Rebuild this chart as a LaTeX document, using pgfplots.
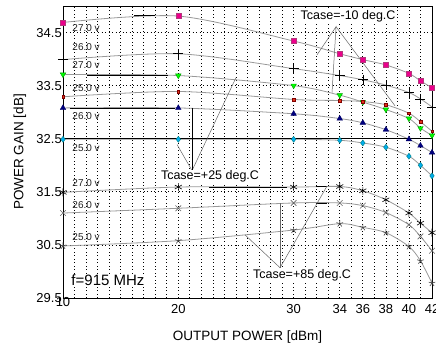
\documentclass[border=0pt]{standalone}
\usepackage{fontspec}
\setmainfont{Liberation Sans}
\usepackage{pgfplots}
\pgfplotsset{compat=1.18}
\definecolor{curve}{HTML}{999999}
\definecolor{lbl}{HTML}{222222}
\begin{document}
\begin{tikzpicture}
\path[use as bounding box] (-63pt,-54pt) rectangle (373pt,298pt);
\begin{axis}[
  scale only axis, width=369pt, height=292pt,
  xmin=10, xmax=42, ymin=29.5, ymax=35,
  axis line style={black, line width=0.8pt},
  xtick={20,30,34,36,38,40,42},
  extra x ticks={10},
  extra x tick style={xticklabel style={yshift=7pt}},
  ytick={29.5,30.5,31.5,32.5,33.5,34.5},
  minor xtick={11,12,...,41},
  grid=both,
  major grid style={black, line width=0.7pt, dash pattern=on 0.7pt off 2.8pt},
  minor grid style={black, line width=0.7pt, dash pattern=on 0.7pt off 2.8pt},
  major tick length=0pt, minor tick length=0pt,
  tick label style={font=\fontsize{13}{13}\selectfont},
  /pgf/number format/assume math mode=true,
  yticklabel style={/pgf/number format/fixed, /pgf/number format/fixed zerofill, /pgf/number format/precision=1, inner sep=1pt},
  xticklabel style={inner sep=2pt, yshift=-4pt},
  xlabel={OUTPUT POWER [dBm]}, ylabel={POWER GAIN [dB]},
  label style={font=\fontsize{13.5}{14}\selectfont},
  xlabel style={at={(axis description cs:0.5,-0.1336)}, anchor=center},
  ylabel style={at={(axis description cs:-0.1165,0.5)}, anchor=center},
  every axis plot/.append style={curve, line width=0.8pt, smooth},
]
% -10 deg C
\addplot[mark=square*, mark size=2.5pt, mark options={fill=magenta, draw=magenta!70!black, line width=0.4pt}] coordinates {
(10,34.69) (20,34.81) (30,34.34) (34,34.10) (36,33.99) (38,33.89) (40,33.73) (41,33.59) (42,33.46)};
\addplot[mark=+, mark size=5pt, mark options={black, line width=0.6pt}] coordinates {
(10,33.99) (20,34.10) (30,33.82) (34,33.69) (36,33.61) (38,33.51) (40,33.37) (41,33.25) (42,33.10)};
\addplot[mark=triangle*, mark size=3.2pt, mark options={rotate=180, fill=green, draw=green!60!black, line width=0.4pt}] coordinates {
(10,33.71) (20,33.69) (30,33.50) (34,33.32) (36,33.19) (38,33.05) (40,32.88) (41,32.70) (42,32.56)};
\addplot[mark=square*, mark size=1.3pt, mark options={fill=red!60!brown, draw=red!50!black, line width=0.3pt}] coordinates {
(10,33.29) (20,33.39) (30,33.24) (34,33.22) (36,33.20) (38,33.14) (40,32.98) (41,32.82) (42,32.64)};
% +25 deg C
\addplot[mark=triangle*, mark size=3.2pt, mark options={fill=blue!50!black, draw=blue!40!black, line width=0.4pt}] coordinates {
(10,33.08) (20,33.08) (30,32.97) (34,32.88) (36,32.80) (38,32.67) (40,32.49) (41,32.37) (42,32.24)};
\addplot[mark=diamond*, mark size=3pt, mark options={fill=cyan, draw=teal, line width=0.4pt}] coordinates {
(10,32.49) (20,32.49) (30,32.49) (34,32.47) (36,32.42) (38,32.34) (40,32.17) (41,32.00) (42,31.80)};
% +85 deg C
\addplot[mark=asterisk, mark size=4pt, mark options={black, line width=0.6pt}] coordinates {
(10,31.49) (20,31.59) (30,31.59) (34,31.60) (36,31.52) (38,31.35) (40,31.10) (41,30.91) (42,30.73)};
\addplot[mark=x, mark size=4pt, mark options={gray!80!black, line width=0.6pt}] coordinates {
(10,31.10) (20,31.19) (30,31.29) (34,31.29) (36,31.24) (38,31.11) (40,30.88) (41,30.66) (42,30.39)};
\addplot[mark=star, mark size=3.5pt, mark options={gray!50!black, line width=0.6pt}] coordinates {
(10,30.48) (20,30.58) (30,30.78) (34,30.90) (36,30.83) (38,30.73) (40,30.47) (41,30.20) (42,29.78)};

% solid reference line and label leftovers
\draw[black, line width=0.7pt] (axis cs:10,32.5) -- (axis cs:42,32.5);
\draw[black, line width=0.7pt] (axis cs:16.2,34.82) -- (axis cs:18.0,34.82);
\draw[black, line width=0.7pt] (axis cs:12.1,33.70) -- (axis cs:19.1,33.70);
\draw[black, line width=0.7pt] (axis cs:10.6,33.08) -- (axis cs:19.7,33.08);
\draw[black, line width=0.7pt] (axis cs:22.7,31.59) -- (axis cs:29.4,31.59);
\draw[black, line width=0.7pt] (axis cs:31.9,31.60) -- (axis cs:32.9,31.60);
\draw[black, line width=0.7pt] (axis cs:31.9,31.29) -- (axis cs:32.9,31.29);

% leader lines
\draw[gray!80!black, line width=0.5pt] (axis cs:32.03,34.08) -- (axis cs:33.68,34.61) -- (axis cs:33.33,33.37);
\draw[gray!80!black, line width=0.5pt] (axis cs:33.68,34.61) -- (axis cs:38.79,33.12);
\draw[gray!80!black, line width=0.5pt] (axis cs:19.89,32.39) -- (axis cs:21.19,31.90) -- (axis cs:25.0,33.65);
\draw[black, line width=0.7pt] (axis cs:21.25,33.08) -- (axis cs:21.25,31.90);
\draw[gray!80!black, line width=0.5pt] (axis cs:25.78,30.69) -- (axis cs:28.82,30.07) -- (axis cs:32.9,31.61);
\draw[gray!80!black, line width=0.5pt] (axis cs:28.82,31.29) -- (axis cs:28.82,30.07);

% texts
\node[font=\fontsize{12.5}{13}\selectfont, fill=white, inner sep=0.5pt] at (axis cs:34.72,34.80) {Tcase=-10 deg.C};
\node[font=\fontsize{12.5}{13}\selectfont, fill=white, inner sep=0.5pt] at (axis cs:22.75,31.79) {Tcase=+25 deg.C};
\node[font=\fontsize{12.5}{13}\selectfont, fill=white, inner sep=0.5pt] at (axis cs:30.73,29.93) {Tcase=+85 deg.C};
\node[font=\fontsize{15}{15}\selectfont, fill=white, inner sep=0.5pt] at (axis cs:13.9,29.84) {f=915 MHz};
\begin{scope}[every node/.style={font=\fontsize{10}{10}\selectfont, text=lbl, inner sep=0.5pt}]
\node at (axis cs:12.0,34.58) {27.0 v};
\node at (axis cs:12.0,34.22) {26.0 v};
\node at (axis cs:12.0,33.88) {27.0 v};
\node at (axis cs:12.0,33.46) {25.0 v};
\node at (axis cs:12.0,32.92) {26.0 v};
\node at (axis cs:12.0,32.33) {25.0 v};
\node at (axis cs:12.0,31.67) {27.0 v};
\node at (axis cs:12.0,31.25) {26.0 v};
\node at (axis cs:12.0,30.65) {25.0 v};
\end{scope}
\end{axis}
\end{tikzpicture}
\end{document}
